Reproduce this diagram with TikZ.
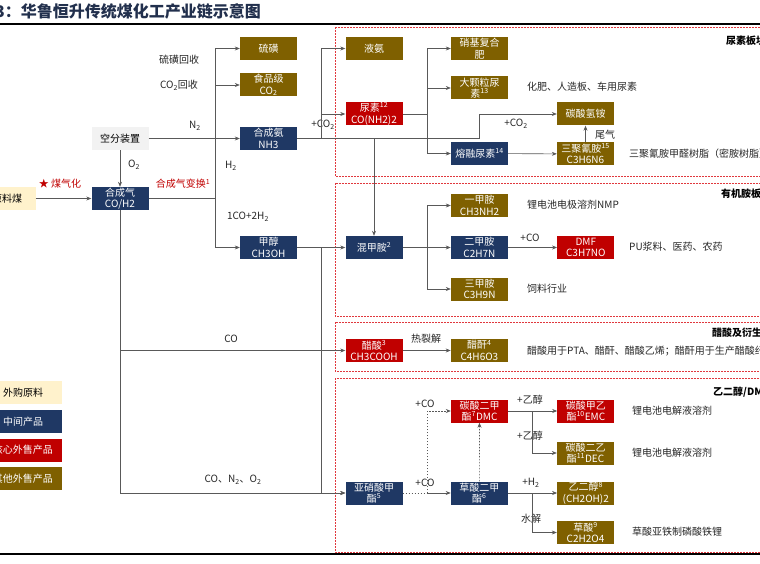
\documentclass[tikz,border=0pt]{standalone}
\usepackage{fontspec}
\setmainfont{Noto Sans CJK SC}
\usepackage{tikz}
\usetikzlibrary{positioning, arrows.meta}
\definecolor{hlnavy}{HTML}{1F3864}
\definecolor{hlred}{HTML}{C00000}
\definecolor{hlolive}{HTML}{7F6000}
\definecolor{hlcream}{HTML}{FFF2CC}
\definecolor{hlgray}{HTML}{F2F2F2}
\definecolor{hlline}{HTML}{595959}
\definecolor{hldash}{HTML}{E0383D}
\definecolor{hltitle}{HTML}{22304D}

\begin{document}
\begin{tikzpicture}[x=1pt, y=-1pt, font=\fontsize{10}{11.5}\selectfont, node distance=48pt,
    prod/.style={minimum width=57pt, minimum height=23pt, inner sep=0pt, align=center, text=white},
    mid/.style={prod, fill=hlnavy},
    core/.style={prod, fill=hlred},
    other/.style={prod, fill=hlolive},
    raw/.style={prod, fill=hlcream, text=black},
    lbl/.style={inner sep=1pt, text=black!85},
    sect/.style={anchor=west, inner sep=0pt, font=\fontsize{10}{12}\selectfont\bfseries},
    zone/.style={draw=hldash, dash pattern=on 2pt off 1pt, line width=0.7pt},
    flow/.style={draw=hlline, line width=0.6pt},
    dots/.style={dash pattern=on 1.5pt off 1.5pt},
    >={Stealth[length=5pt, width=4pt]}]
    \path[use as bounding box, clip] (0,0) rectangle (760,564);

    % title and rules
    \node[anchor=west, inner sep=0pt, font=\fontsize{16}{18}\selectfont\bfseries, text=hltitle] (title) at (-21,11) {图3：华鲁恒升传统煤化工产业链示意图};
    \draw[line width=1.6pt] (0,24) -- (760,24);
    \draw[line width=1.6pt] (0,554) -- (760,554);

    % plate frames
    \draw[zone] (335,27) rectangle (775,176);
    \draw[zone] (335,183) rectangle (775,316);
    \draw[zone] (335,322) rectangle (775,371);
    \draw[zone] (335,378) rectangle (775,552);
    \node[sect] (plateurea) at (726,41) {尿素板块};
    \node[sect] (plateamine) at (721,194) {有机胺板块};
    \node[sect] (plateacetic) at (712,333) {醋酸及衍生品板块};
    \node[sect] (plateglycol) at (713,392) {乙二醇/DMC板块};

    % products
    \node[raw] (coal) at (7,198.5) {原料煤};
    \node[prod, fill=hlgray, text=black] (air) at (120,138.5) {空分装置};
    \node[mid] (syngas) at (120,198.5) {合成气\\CO/H2};
    \node[other] (sulfur) at (268.5,48.5) {硫磺};
    \node[other] (co2food) at (268.5,85) {食品级\\CO\textsubscript{2}};
    \node[mid] (nh3) at (268.5,138.5) {合成氨\\NH3};
    \node[mid] (methanol) at (268.5,247.5) {甲醇\\CH3OH};
    \node[other] (liqnh3) at (374,48.5) {液氨};
    \node[core] (urea) at (374,114) {尿素\textsuperscript{12}\\CO(NH2)2};
    \node[mid] (mma) at (374,247.5) {混甲胺\textsuperscript{2}};
    \node[core] (acetic) at (374,350.5) {醋酸\textsuperscript{3}\\CH3COOH};
    \node[mid] (nitrite) at (374,493) {亚硝酸甲\\酯\textsuperscript{5}};
    \node[other] (nitro) at (479.5,48.5) {硝基复合\\肥};
    \node[other] (granule) at (479.5,88) {大颗粒尿\\素\textsuperscript{13}};
    \node[mid] (melt) at (479.5,153.5) {熔融尿素\textsuperscript{14}};
    \node[other] (mma1) at (479.5,205.5) {一甲胺\\CH3NH2};
    \node[mid, right=of mma] (dma) {二甲胺\\C2H7N};
    \node[other] (tma) at (479.5,289) {三甲胺\\C3H9N};
    \node[other, right=of acetic] (anhyd) {醋酐\textsuperscript{4}\\C4H6O3};
    \node[core] (dmc) at (479.5,411) {碳酸二甲\\酯\textsuperscript{7}DMC};
    \node[mid, right=of nitrite] (oxalate) {草酸二甲\\酯\textsuperscript{6}};
    \node[other] (abc) at (585.5,114) {碳酸氢铵};
    \node[other] (melamine) at (585.5,154) {三聚氰胺\textsuperscript{15}\\C3H6N6};
    \node[core, right=49pt of dma] (dmf) {DMF\\C3H7NO};
    \node[core, right=49pt of dmc] (emc) {碳酸甲乙\\酯\textsuperscript{10}EMC};
    \node[other] (dec) at (585.5,453) {碳酸二乙\\酯\textsuperscript{11}DEC};
    \node[other, right=49pt of oxalate] (glycol) {乙二醇\textsuperscript{8}\\(CH2OH)2};
    \node[other] (oxalic) at (585.5,532.5) {草酸\textsuperscript{9}\\C2H2O4};

    % legend
    \node[raw, minimum width=78pt] (lgraw) at (23,392.5) {外购原料};
    \node[mid, minimum width=78pt] (lgmid) at (23,421.5) {中间产品};
    \node[core, minimum width=78pt] (lgcore) at (23,450) {核心外售产品};
    \node[other, minimum width=78pt] (lgother) at (23,478.5) {其他外售产品};

    % flow labels
    \node[lbl] (tsulfur) at (179,60) {硫磺回收};
    \node[lbl] (tco2) at (179,85) {CO\textsubscript{2}回收};
    \node[lbl] (tn2) at (195,126) {N\textsubscript{2}};
    \node[lbl] (to2) at (134,165) {O\textsubscript{2}};
    \node[lbl] (th2) at (231,166) {H\textsubscript{2}};
    \node[lbl, text=hlred] (tgasify) at (60,184) {★ 煤气化};
    \node[lbl, text=hlred] (tshift) at (183,184) {合成气变换\textsuperscript{1}};
    \node[lbl] (tmeoh) at (248,217) {1CO+2H\textsubscript{2}};
    \node[lbl] (tco2a) at (323,125) {+CO\textsubscript{2}};
    \node[lbl] (tco2b) at (516,124) {+CO\textsubscript{2}};
    \node[lbl] (ttail) at (605,135) {尾气};
    \node[lbl] (tco) at (231,339) {CO};
    \node[lbl] (tcrack) at (426,339) {热裂解};
    \node[lbl] (tcon2o2) at (233,480) {CO、N\textsubscript{2}、O\textsubscript{2}};
    \node[lbl] (tcoa) at (530,238) {+CO};
    \node[lbl] (tcob) at (425,404) {+CO};
    \node[lbl] (tcoc) at (425,483) {+CO};
    \node[lbl] (tetoha) at (530,400) {+乙醇};
    \node[lbl] (tetohb) at (530,436) {+乙醇};
    \node[lbl] (th2b) at (531,483) {+H\textsubscript{2}};
    \node[lbl] (thydro) at (531,519) {水解};

    % uses
    \node[lbl, anchor=west] (ufert) at (526,87) {化肥、人造板、车用尿素};
    \node[lbl, anchor=west] (uresin) at (628,154) {三聚氰胺甲醛树脂（密胺树脂）};
    \node[lbl, anchor=west] (unmp) at (526,205) {锂电池电极溶剂NMP};
    \node[lbl, anchor=west] (upu) at (628,247) {PU浆料、医药、农药};
    \node[lbl, anchor=west] (ufeed) at (526,289) {饲料行业};
    \node[lbl, anchor=west] (uacetic) at (526,351) {醋酸用于PTA、醋酐、醋酸乙烯；醋酐用于生产醋酸纤维};
    \node[lbl, anchor=west] (uemc) at (631,411) {锂电池电解液溶剂};
    \node[lbl, anchor=west] (udec) at (631,453) {锂电池电解液溶剂};
    \node[lbl, anchor=west] (ulfp) at (631,532) {草酸亚铁制磷酸铁锂};

    % junctions
    \coordinate (bus1) at (215,198.5);
    \coordinate (nhA) at (321,138.5);
    \coordinate (nhB) at (374,138.5);
    \coordinate (nhC) at (479.5,138.5);
    \coordinate (ureaJ) at (427,114);
    \coordinate (meJ) at (321,247.5);
    \coordinate (coJ) at (120,350.5);
    \coordinate (amJ) at (427,247.5);
    \coordinate (niJ) at (427,493);
    \coordinate (dmcJ) at (532,411);
    \coordinate (oxJ) at (532,493);

    % connectors
    \draw[flow, ->] (coal) -- (syngas);
    \draw[flow, ->] (air) -- (syngas);
    \draw[flow, ->] (air) -- (nh3);
    \draw[flow] (syngas) -- (bus1);
    \draw[flow, ->] (bus1) |- (sulfur);
    \draw[flow, ->] (bus1) |- (co2food);
    \draw[flow, ->] (bus1) |- (methanol);
    \draw[flow] (nh3) -- (nhC);
    \draw[flow, ->] (nhC) |- (abc);
    \draw[flow, ->] (nhA) |- (liqnh3);
    \draw[flow, ->] (nhA) |- (urea);
    \draw[flow, ->] (nhB) -- (mma);
    \draw[flow] (urea) -- (ureaJ);
    \draw[flow, ->] (ureaJ) |- (nitro);
    \draw[flow, ->] (ureaJ) |- (granule);
    \draw[flow, ->] (ureaJ) |- (melt);
    \draw[flow, ->] (melt) -- (melamine);
    \draw[flow, ->] (melamine) -- (abc);
    \draw[flow, ->] (methanol) -- (mma);
    \draw[flow, ->] (meJ) |- (nitrite);
    \draw[flow, ->] (syngas) |- (nitrite);
    \draw[flow, ->] (coJ) -- (acetic);
    \draw[flow, ->] (mma) -- (dma);
    \draw[flow, ->] (amJ) |- (mma1);
    \draw[flow, ->] (amJ) |- (tma);
    \draw[flow, ->] (dma) -- (dmf);
    \draw[flow, ->] (acetic) -- (anhyd);
    \draw[flow, dots] (nitrite) -- (niJ);
    \draw[flow, dots, ->] (niJ) |- (dmc);
    \draw[flow, ->] (niJ) -- (oxalate);
    \draw[flow, dots, ->] (oxalate) -- (dmc);
    \draw[flow, ->] (dmc) -- (emc);
    \draw[flow, ->] (dmcJ) |- (dec);
    \draw[flow, ->] (oxalate) -- (glycol);
    \draw[flow, ->] (oxJ) |- (oxalic);
\end{tikzpicture}
\end{document}
